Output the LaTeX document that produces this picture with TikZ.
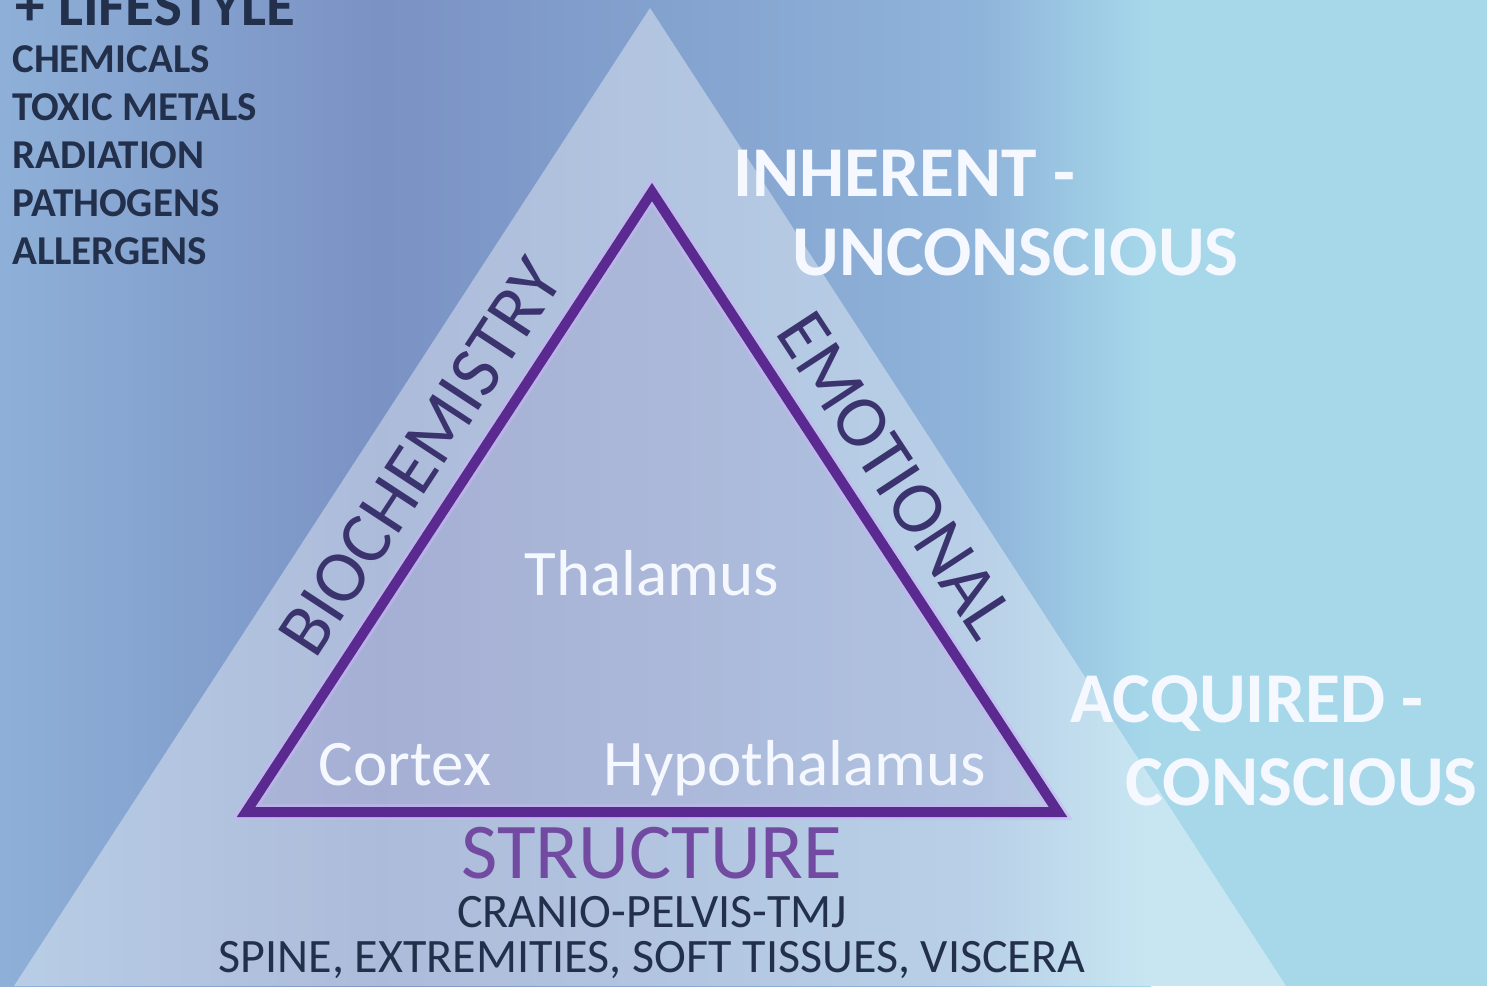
\documentclass[tikz,border=0pt]{standalone}
\usepackage{fontspec}
\setmainfont{Carlito}
\usetikzlibrary{positioning}
\definecolor{bgA}{HTML}{8EB0D8}
\definecolor{bgB}{HTML}{7A92C4}
\definecolor{bgC}{HTML}{8FB4DA}
\definecolor{bgD}{HTML}{A6D8EA}
\definecolor{plum}{HTML}{5A2A90}
\definecolor{glow}{HTML}{C8B4F4}
\definecolor{navy}{HTML}{3B336E}
\definecolor{ink}{HTML}{23304C}
\definecolor{snow}{HTML}{F5F9FF}

\begin{document}
\begin{tikzpicture}[x=0.5pt,y=-0.5pt,
    txt/.style={inner sep=0pt,anchor=base},
    lst/.style={txt,anchor=base west,text=ink,font=\bfseries\fontsize{20.5}{24}\selectfont},
    big/.style={txt,anchor=base west,text=snow,font=\bfseries\fontsize{35.75}{40}\selectfont},
    part/.style={txt,text=snow,font=\fontsize{32.5}{36}\selectfont},
    side/.style={sloped,inner sep=0pt,text=navy,font=\fontsize{37}{40}\selectfont},
    sub/.style={txt,text=ink,font=\fontsize{24}{28}\selectfont}]
 \useasboundingbox (0,0) rectangle (1487,986);
 % background
 \shade[left color=bgA,right color=bgB] (0,0) rectangle (381,986);
 \shade[left color=bgB,right color=bgC] (380,0) rectangle (981,986);
 \shade[left color=bgC,right color=bgD] (980,0) rectangle (1151,986);
 \fill[bgD] (1150,0) rectangle (1487,986);
 % pyramid
 \coordinate (TOP) at (650,8);
 \fill[white,opacity=0.38] (TOP) -- (14,986) -- (1286,986) -- cycle;
 % inner triangle
 \coordinate (A) at (652,192);
 \coordinate (L) at (246,812);
 \coordinate (R) at (1058,812);
 \fill[plum,opacity=0.08] (A) -- (L) -- (R) -- cycle;
 \draw[glow,line width=8pt,opacity=0.55] (A) -- (L) -- (R) -- cycle;
 \draw[plum,line width=5pt] (A) -- (L) -- (R) -- cycle;
 \path (L) -- node[side,pos=0.53,above=12pt] (BIO) {BIOCHEMISTRY} (A);
 \path (A) -- node[side,pos=0.5,above=12pt] (EMO) {EMOTIONAL} (R);
 % lifestyle list
 \node[lst,font=\bfseries\fontsize{29.5}{32}\selectfont] (LIF) at (15,25) {+ LIFESTYLE};
 \foreach \T [count=\i] in {CHEMICALS,TOXIC METALS,RADIATION,PATHOGENS,ALLERGENS}
   \node[lst] (L\i) at (12,{25+47.8*\i}) {\T};
 % right side
 \node[big] (INH) at (733,196) {INHERENT -};
 \node[big] (UNC) at (792,275) {UNCONSCIOUS};
 \node[big] (ACQ) at (1070,722) {ACQUIRED -};
 \node[big] (CON) at (1125,805) {CONSCIOUS};
 % brain parts
 \node[part] (THA) at (652,595) {Thalamus};
 \node[part] (COR) at (405,785) {Cortex};
 \node[part] (HYP) at (795,785) {Hypothalamus};
 % base
 \node[txt,text=plum!85!white,font=\fontsize{39.5}{42}\selectfont] (STR) at (652,878) {STRUCTURE};
 \node[sub] (CRA) at (652,927) {CRANIO-PELVIS-TMJ};
 \node[sub] (SPI) at (652,972) {SPINE, EXTREMITIES, SOFT TISSUES, VISCERA};
\end{tikzpicture}
\end{document}
